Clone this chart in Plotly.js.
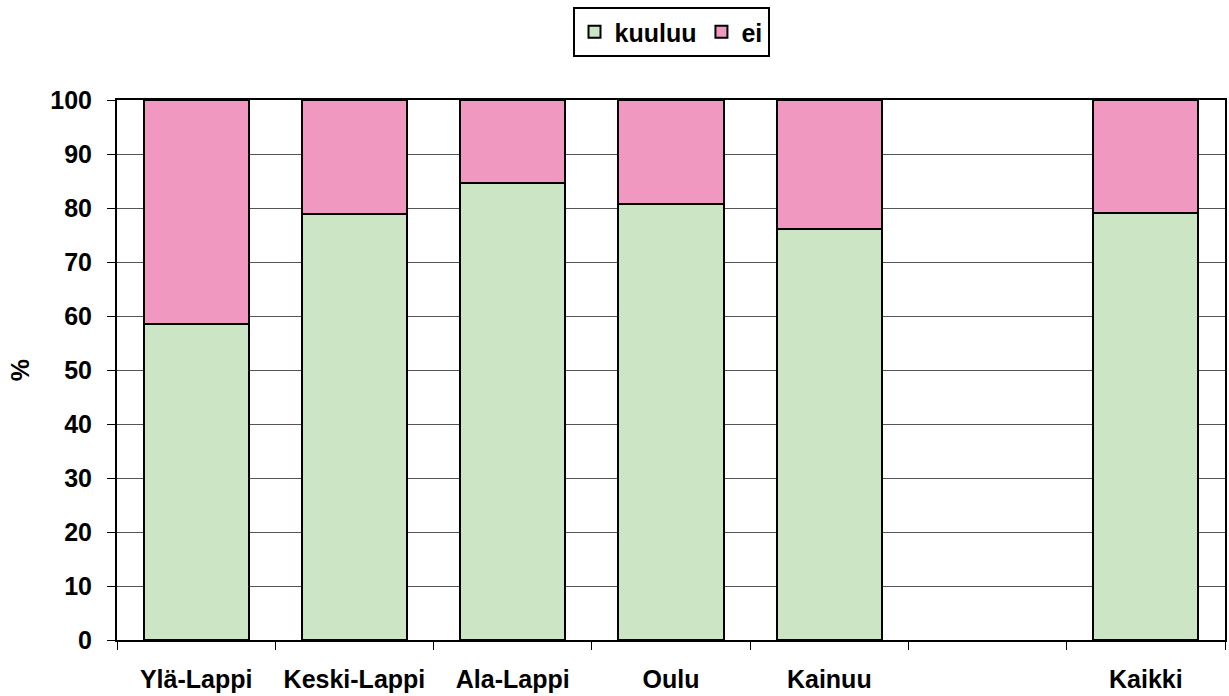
<!DOCTYPE html>
<html><head><meta charset="utf-8">
<script src="https://cdn.plot.ly/plotly-3.0.1.min.js"></script>
<style>html,body{margin:0;padding:0;background:#fff;}#chart{width:1229px;height:696px;}</style>
</head><body><div id="chart"></div>
<script>
var categories = ['Ylä-Lappi','Keski-Lappi','Ala-Lappi','Oulu','Kainuu',' ','Kaikki'];
var kuuluu = [58.5, 78.9, 84.6, 80.7, 76.1, null, 79.1];
var ei = [41.5, 21.1, 15.4, 19.3, 23.9, null, 20.9];
var yTicks = [0,10,20,30,40,50,60,70,80,90,100];

var fontFam = 'Arial, "Liberation Sans", sans-serif';
var fs = 25;
var traces = [
  {type:'bar', name:'kuuluu', x:categories, y:kuuluu,
   marker:{color:'#cce5c4', line:{color:'#000', width:2}}},
  {type:'bar', name:'ei', x:categories, y:ei,
   marker:{color:'#f198c0', line:{color:'#000', width:2}}}
];
var layout = {
  width:1229, height:696,
  margin:{l:117, r:4, t:100, b:56},
  barmode:'stack', bargap:0.335,
  paper_bgcolor:'#fff', plot_bgcolor:'#fff',
  font:{family:fontFam, size:fs, color:'#000', weight:'bold'},
  showlegend:true,
  legend:{orientation:'h', traceorder:'normal', x:0.5, xanchor:'center', y:1.172, yanchor:'top',
    bordercolor:'#000', borderwidth:2, font:{family:fontFam, size:fs, weight:'bold'},
    itemwidth:30, tracegroupgap:0},
  xaxis:{type:'category', categoryorder:'array', categoryarray:categories,
    range:[-0.5,6.5], tickson:'boundaries', ticks:'outside', ticklen:8, tickwidth:1, tickcolor:'#000',
    showgrid:false, showline:true, linecolor:'#000', linewidth:2, mirror:true,
    ticklabelstandoff:16, tickfont:{family:fontFam, size:fs, weight:'bold'}, fixedrange:true},
  yaxis:{range:[0,100], tickvals:yTicks, ticktext:yTicks.map(String), ticks:'outside', ticklen:8, tickwidth:1, tickcolor:'#000',
    showgrid:true, gridcolor:'#555', gridwidth:1, showline:true, linecolor:'#000', linewidth:2, mirror:true,
    zeroline:false, ticklabelstandoff:10,
    tickfont:{family:fontFam, size:fs, weight:'bold'},
    title:{text:'%', font:{family:fontFam, size:fs, weight:'bold'}, standoff:14}}
};
Plotly.newPlot('chart', traces, layout, {displayModeBar:false, staticPlot:true});
</script></body></html>
